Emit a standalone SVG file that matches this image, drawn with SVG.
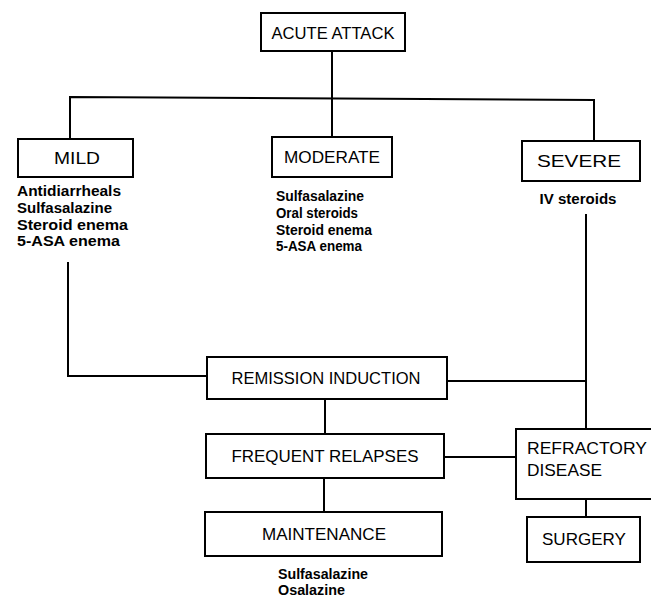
<svg xmlns="http://www.w3.org/2000/svg" width="651" height="601" viewBox="0 0 651 601">
<style>
.box{fill:#fff;stroke:#000;stroke-width:2}
.lbl{font-family:"Liberation Sans",Arial,sans-serif;font-size:16.5px;fill:#000;text-anchor:middle}
.lft{text-anchor:start}
.lst{font-family:"Liberation Sans",Arial,sans-serif;font-size:14px;font-weight:bold;fill:#000}
.ctr{text-anchor:middle}
.ln{fill:none;stroke:#000;stroke-width:2}
</style>
<rect width="651" height="601" fill="#fff"/>
<g id="connectors">
<path class="ln" d="M332,51 V98"/>
<path class="ln" d="M70,139 V97 L594,100 V141"/>
<path class="ln" d="M332,98 V137"/>
<path class="ln" d="M68,262 V376 H207"/>
<path class="ln" d="M447,381 H586"/>
<path class="ln" d="M586,214 V429"/>
<path class="ln" d="M325,399 V434"/>
<path class="ln" d="M444,457 H516"/>
<path class="ln" d="M324,478 V512"/>
<path class="ln" d="M586,499 V517"/>
</g>
<g id="acute"><rect class="box" x="261" y="13" width="144" height="38"/><text class="lbl" x="333" y="39" textLength="123" lengthAdjust="spacingAndGlyphs">ACUTE ATTACK</text></g>
<g id="mild"><rect class="box" x="18" y="139" width="115" height="38"/><text class="lbl" x="77" y="164" textLength="46" lengthAdjust="spacingAndGlyphs">MILD</text>
<text class="lst" x="17" y="196" textLength="104" lengthAdjust="spacingAndGlyphs">Antidiarrheals</text>
<text class="lst" x="17" y="213" textLength="95" lengthAdjust="spacingAndGlyphs">Sulfasalazine</text>
<text class="lst" x="17" y="230" textLength="111" lengthAdjust="spacingAndGlyphs">Steroid enema</text>
<text class="lst" x="17" y="246" textLength="103" lengthAdjust="spacingAndGlyphs">5-ASA enema</text></g>
<g id="moderate"><rect class="box" x="272" y="137" width="120" height="40"/><text class="lbl" x="332" y="163" textLength="96" lengthAdjust="spacingAndGlyphs">MODERATE</text>
<text class="lst" x="276" y="201" textLength="88" lengthAdjust="spacingAndGlyphs">Sulfasalazine</text>
<text class="lst" x="276" y="218" textLength="82" lengthAdjust="spacingAndGlyphs">Oral steroids</text>
<text class="lst" x="276" y="235" textLength="96" lengthAdjust="spacingAndGlyphs">Steroid enema</text>
<text class="lst" x="276" y="251" textLength="86" lengthAdjust="spacingAndGlyphs">5-ASA enema</text></g>
<g id="severe"><rect class="box" x="522" y="141" width="118" height="40"/><text class="lbl" x="579" y="167" textLength="84" lengthAdjust="spacingAndGlyphs">SEVERE</text>
<text class="lst ctr" x="578" y="204" textLength="77" lengthAdjust="spacingAndGlyphs">IV steroids</text></g>
<g id="remission"><rect class="box" x="207" y="357" width="240" height="42"/><text class="lbl" x="326" y="384" textLength="189" lengthAdjust="spacingAndGlyphs">REMISSION INDUCTION</text></g>
<g id="frequent"><rect class="box" x="206" y="434" width="238" height="44"/><text class="lbl" x="325" y="462" textLength="187" lengthAdjust="spacingAndGlyphs">FREQUENT RELAPSES</text></g>
<g id="refractory"><rect class="box" x="516" y="429" width="145" height="70"/><text class="lbl lft" x="527" y="454" textLength="120" lengthAdjust="spacingAndGlyphs">REFRACTORY</text><text class="lbl lft" x="527" y="476" textLength="75" lengthAdjust="spacingAndGlyphs">DISEASE</text></g>
<g id="maintenance"><rect class="box" x="205" y="512" width="237" height="44"/><text class="lbl" x="324" y="540" textLength="124" lengthAdjust="spacingAndGlyphs">MAINTENANCE</text>
<text class="lst" x="278" y="579" textLength="90" lengthAdjust="spacingAndGlyphs">Sulfasalazine</text>
<text class="lst" x="278" y="595" textLength="67" lengthAdjust="spacingAndGlyphs">Osalazine</text></g>
<g id="surgery"><rect class="box" x="527" y="517" width="113" height="45"/><text class="lbl" x="584" y="545" textLength="84" lengthAdjust="spacingAndGlyphs">SURGERY</text></g>
</svg>
